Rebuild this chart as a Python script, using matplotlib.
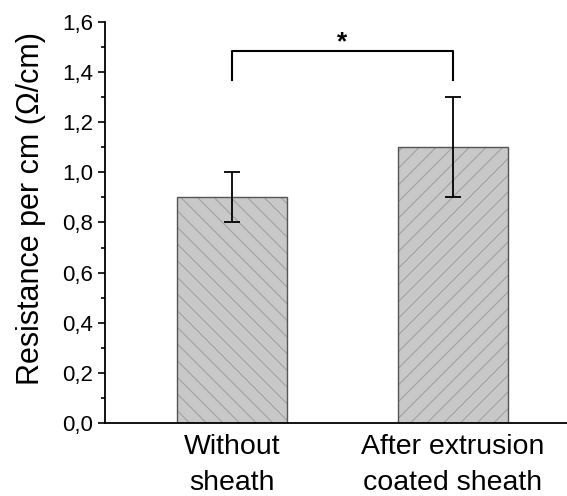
import matplotlib
matplotlib.use("Agg")
import matplotlib.pyplot as plt
from matplotlib.ticker import MultipleLocator, FuncFormatter

groups = ["Without\nsheath", "After extrusion\ncoated sheath"]
means = [0.9, 1.1]
errors = [0.1, 0.2]
hatches = ["\\\\", "//"]

plt.rcParams["font.family"] = ["Liberation Sans", "DejaVu Sans"]
plt.rcParams["hatch.color"] = "#a2a2a2"
plt.rcParams["hatch.linewidth"] = 0.8

fig = plt.figure(figsize=(5.67, 4.96), dpi=100)
ax = fig.add_axes([0.185, 0.147, 0.815, 0.809])

x = list(range(len(groups)))
for xi, m, h in zip(x, means, hatches):
    ax.bar(xi, m, width=0.5, color="#c8c8c8", hatch=h, edgecolor="#a2a2a2", linewidth=0)
ax.bar(x, means, width=0.5, fill=False, edgecolor="#555555", linewidth=1.0)
ax.errorbar(x, means, yerr=errors, fmt="none", ecolor="black", elinewidth=1.3,
            capsize=6, capthick=1.3)

# significance bracket
ax.plot([0, 0, 1, 1], [1.37, 1.485, 1.485, 1.37], color="black", lw=1.5)
ax.text(0.5, 1.47, "*", ha="center", va="bottom", fontsize=19, fontweight="bold")

ax.set_xlim(-0.575, 1.516)
ax.set_ylim(0, 1.6)
ax.set_xticks(x)
ax.set_xticklabels(groups, fontsize=20.5, linespacing=1.5)
ax.tick_params(axis="x", length=0, pad=7.5)
ax.yaxis.set_major_locator(MultipleLocator(0.2))
ax.yaxis.set_minor_locator(MultipleLocator(0.1))
ax.yaxis.set_major_formatter(FuncFormatter(lambda v, p: f"{v:.1f}".replace(".", ",")))
ax.tick_params(axis="y", which="major", length=5, width=1.2, labelsize=16, pad=3.5)
ax.tick_params(axis="y", which="minor", length=3, width=1.2)
ax.set_ylabel("Resistance per cm (\u03a9/cm)", fontsize=22)
ax.yaxis.set_label_coords(-0.127, 0.535)
ax.spines["top"].set_visible(False)
ax.spines["right"].set_visible(False)
ax.spines["left"].set_linewidth(1.3)
ax.spines["bottom"].set_linewidth(1.3)

fig.savefig("out.png", dpi=100)
